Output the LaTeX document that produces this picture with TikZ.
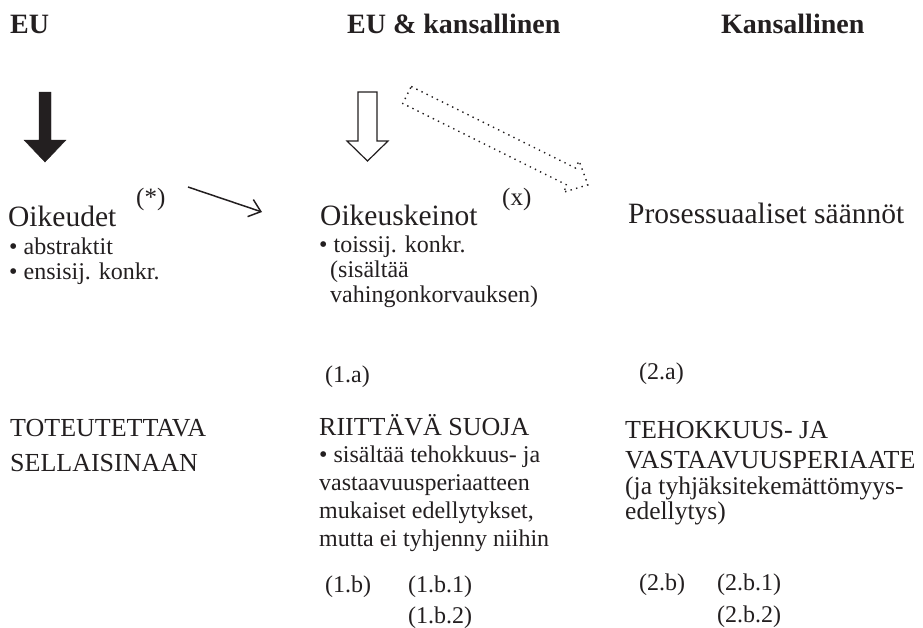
\documentclass[tikz,border=0pt]{standalone}
\usepackage{fontspec}
\setmainfont{Liberation Serif}
\usetikzlibrary{positioning,arrows.meta}
\definecolor{ink}{RGB}{35,31,32}

\begin{document}
\begin{tikzpicture}[x=1pt,y=-1pt,every node/.style={text=ink},
  hdr/.style={anchor=base west,inner sep=0pt,font=\fontsize{28}{30}\selectfont\bfseries},
  big/.style={anchor=base west,inner sep=0pt,font=\fontsize{29.5}{32}\selectfont},
  caps/.style={anchor=base west,inner sep=0pt,font=\fontsize{26}{28}\selectfont},
  txt/.style={anchor=base west,inner sep=0pt,font=\fontsize{24}{26}\selectfont},
  note/.style={anchor=base west,inner sep=0pt,font=\fontsize{25.5}{27}\selectfont},
  tag/.style={anchor=base west,inner sep=0pt,font=\fontsize{25}{27}\selectfont},
  dotarrow/.style={draw=ink,line width=1.4pt,dash pattern=on 1.4pt off 4.3pt}]
\useasboundingbox (0,0) rectangle (923,627);
% headers
\node[hdr] (hEU) at (10,33) {EU};
\node[hdr] (hMix) at (347,33) {EU \& kansallinen};
\node[hdr] (hNat) at (721,33) {Kansallinen};
% block arrows
\coordinate (euTop) at (45,92);
\draw[ink,fill=ink] (euTop) ++(-6,0) -- ++(12,0) -- ++(0,48) -- ++(15,0)
  -- ++(-21,22) -- ++(-21,-22) -- ++(15,0) -- cycle;
\coordinate (mixTop) at (367.5,92);
\draw[ink,line width=1.2pt,fill=white] (mixTop) ++(-9.5,0) -- ++(19,0) -- ++(0,49)
  -- ++(11,0) -- ++(-20.5,20) -- ++(-20.5,-20) -- ++(11,0) -- cycle;
\begin{scope}[shift={(407,95)},rotate=-26.4]
\draw[dotarrow] (0,-9.5) -- (183.4,-9.5) -- (183.4,-17.5) -- (202,0)
  -- (183.4,17.5) -- (183.4,9.5) -- (0,9.5) -- cycle;
\end{scope}
% column EU
\node[big] (oik) at (8,226) {Oikeudet};
\node[tag] (star) at (136,205) {(*)};
\node[txt] (oikA) at (9,254) {• abstraktit};
\node[txt] (oikB) at (9,279) {• ensisij. konkr.};
\node[caps] (tot1) at (10,436) {TOTEUTETTAVA};
\node[caps] (tot2) at (10,471) {SELLAISINAAN};
% column EU & kansallinen
\node[big] (keino) at (320,225) {Oikeuskeinot};
\node[tag] (ex) at (502,205) {(x)};
\node[txt] (keinoA) at (319,252) {• toissij. konkr.};
\node[txt] (keinoB) at (330,277) {(sisältää};
\node[txt] (keinoC) at (330,302) {vahingonkorvauksen)};
\node[txt] (n1a) at (325,382) {(1.a)};
\node[caps] (suoja) at (319,435) {RIITTÄVÄ SUOJA};
\node[txt] (suojaA) at (319,462) {• sisältää tehokkuus- ja};
\node[txt] (suojaB) at (319,490) {vastaavuusperiaatteen};
\node[txt] (suojaC) at (319,518) {mukaiset edellytykset,};
\node[txt] (suojaD) at (319,546) {mutta ei tyhjenny niihin};
\node[txt] (n1b) at (325,592) {(1.b)};
\node[txt] (n1b1) at (408,592) {(1.b.1)};
\node[txt] (n1b2) at (408,623) {(1.b.2)};
% column Kansallinen
\node[big] (pros) at (628,223) {Prosessuaaliset säännöt};
\node[txt] (n2a) at (639,379) {(2.a)};
\node[caps] (teho1) at (625,438) {TEHOKKUUS- JA};
\node[caps] (teho2) at (625,468) {VASTAAVUUSPERIAATE};
\node[note] (teho3) at (625,494) {(ja tyhjäksitekemättömyys-};
\node[note] (teho4) at (625,519) {edellytys)};
\node[txt] (n2b) at (639,590) {(2.b)};
\node[txt] (n2b1) at (717,590) {(2.b.1)};
\node[txt] (n2b2) at (717,622) {(2.b.2)};
% thin arrow
\coordinate (starS) at (188,187);
\coordinate (starE) at (262,212);
\draw[ink,line width=1.5pt,-{Straight Barb[length=11pt,width=18pt]}] (starS) -- (starE);
\end{tikzpicture}
\end{document}
